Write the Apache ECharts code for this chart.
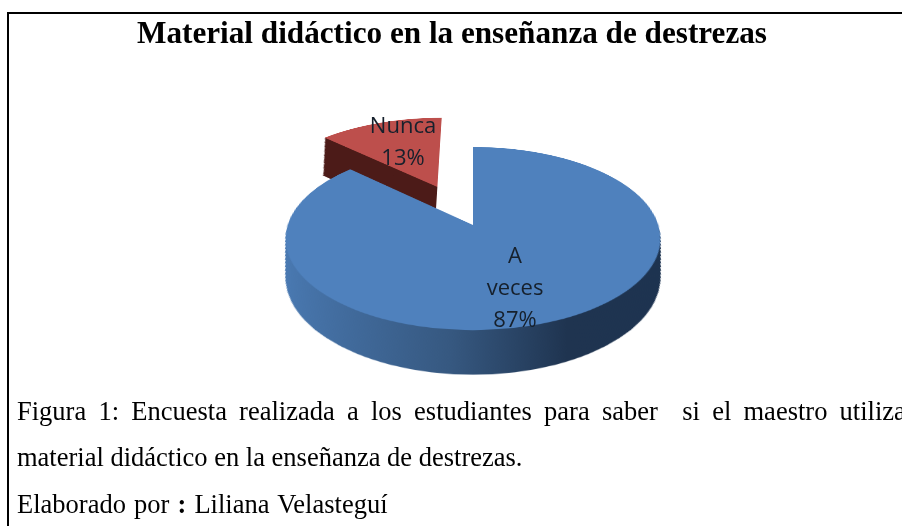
<!DOCTYPE html>
<html>
<head>
<meta charset="utf-8">
<title>Material didáctico</title>
<script src="https://cdn.jsdelivr.net/npm/echarts@6/dist/echarts.min.js"></script>
<style>
  html, body { margin: 0; padding: 0; background: #fff; }
  #page { position: relative; width: 902px; height: 526px; overflow: hidden; background: #fff; filter: blur(0.4px); }
  /* el pie real se inclina con CSS para dar la vista 3D */
  #pie {
    position: absolute; left: 222.5px; top: -75px; width: 500px; height: 600px;
    transform: perspective(1100px) rotateX(61.1deg);
  }
  #overlay { position: absolute; left: 0; top: 0; width: 902px; height: 526px; }
  .caption {
    position: absolute; left: 17px; margin: 0; color: #000; white-space: pre;
    font-family: "Liberation Serif", serif; font-size: 26.5px; line-height: 32px;
  }
</style>
</head>
<body>
<div id="page">
  <div id="pie"></div>
  <div id="overlay"></div>
  <p class="caption" style="top:395px; word-spacing:5.6px;">Figura 1: Encuesta realizada a los estudiantes para saber  si el maestro utiliza</p>
  <p class="caption" style="top:441px;">material didáctico en la enseñanza de destrezas.</p>
  <p class="caption" style="top:488px; word-spacing:1.5px;">Elaborado por <b>:</b> Liliana Velasteguí</p>
</div>

<script>
const categories = ['A veces', 'Nunca']
const values = [87, 13]
const chartTitle = 'Material didáctico en la enseñanza de destrezas'

const RADIUS = 185.4
const CENTER = [250, 300]
// la porción "Nunca" va separada del resto
const EXPLODE = [-38, -84]
const STEP = 2

const sideBlue = {
  type: 'linear', x: 0, y: 0, x2: 1, y2: 0,
  colorStops: [
    { offset: 0, color: '#4a7ab3' },
    { offset: 0.45, color: '#365880' },
    { offset: 0.72, color: '#1f3450' },
    { offset: 1, color: '#1d3350' },
  ],
}

// d = profundidad de la capa; se encoge para compensar la perspectiva
const sliceSeries = (index, cx, cy, d, color) => ({
  type: 'pie',
  silent: true,
  animation: false,
  radius: [0, RADIUS * (1 - 0.8757 * d / 1100)],
  center: [cx, cy + d],
  startAngle: 90,
  label: { show: false },
  labelLine: { show: false },
  data: categories.map((name, i) => ({
    name,
    value: values[i],
    itemStyle: { color: i === index ? color : 'transparent', borderWidth: 0 },
  })),
})

const pieSeries = []
// primero la pared y la cara de "Nunca", que queda detrás
for (let d = 90; d > 0; d -= STEP) {
  pieSeries.push(sliceSeries(1, CENTER[0] + EXPLODE[0], CENTER[1] + EXPLODE[1], d, '#4c1b18'))
}
pieSeries.push(sliceSeries(1, CENTER[0] + EXPLODE[0], CENTER[1] + EXPLODE[1], 0, '#bd4f4c'))
for (let d = 74; d > 0; d -= STEP) {
  pieSeries.push(sliceSeries(0, CENTER[0], CENTER[1], d, sideBlue))
}
pieSeries.push(sliceSeries(0, CENTER[0], CENTER[1], 0, '#4f81bd'))

const pie = echarts.init(document.getElementById('pie'))
pie.setOption({ animation: false, series: pieSeries })

// textos encima del pie inclinado
const labelPos = [
  { x: 515, y: 289 },
  { x: 403, y: 143 },
]
const overlay = echarts.init(document.getElementById('overlay'))
overlay.setOption({
  animation: false,
  title: {
    text: chartTitle,
    left: 447,
    top: 14,
    textAlign: 'center',
    textStyle: { fontFamily: 'Liberation Serif', fontWeight: 'bold', fontSize: 31.2, color: '#000' },
  },
  graphic: [
    { type: 'line', shape: { x1: 7, y1: 13, x2: 902, y2: 13 }, style: { stroke: '#000', lineWidth: 2 } },
    { type: 'line', shape: { x1: 8, y1: 12, x2: 8, y2: 526 }, style: { stroke: '#000', lineWidth: 2 } },
    // el rótulo "Nunca" sale cortado arriba en el original
    { type: 'rect', z: 100, shape: { x: 340, y: 90, width: 120, height: 27 }, style: { fill: '#fff' } },
  ],
  series: [{
    type: 'pie',
    silent: true,
    radius: [0, 10],
    center: [472, 225],
    startAngle: 90,
    itemStyle: { color: 'transparent' },
    labelLine: { show: false },
    label: {
      show: true,
      position: 'inside',
      formatter: p => p.name.replace(' ', '\n') + '\n' + p.percent + '%',
      fontFamily: 'Open Sans',
      fontSize: 22,
      lineHeight: 32,
      color: '#16202c',
    },
    labelLayout: p => ({ x: labelPos[p.dataIndex].x, y: labelPos[p.dataIndex].y, align: 'center', verticalAlign: 'middle' }),
    data: categories.map((name, i) => ({ name, value: values[i] })),
  }],
})
</script>
</body>
</html>
